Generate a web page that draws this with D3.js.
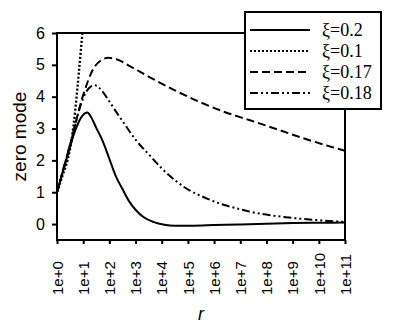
<html>
    <head>
        <title>zero mode</title>
        <style type="text/css">
            body{
                padding:0px;
                margin:0px;
                background:white;
            }
            svg{
                width:393px;
                height:334px;
                display:block;
            }
            .curve{
                fill:none;
                stroke:black;
                stroke-width:2px;
            }
            .axis path, .axis line{
                stroke:black;
                stroke-width:2px;
            }
            text{
                font-family:"Liberation Sans", Arial, sans-serif;
                fill:black;
            }
        </style>
        <script src="https://d3js.org/d3.v7.min.js"></script>
        <script type="text/javascript">
            // x values are log10(r)
            xi02Exp = [0, 0.35, 0.7, 0.95, 1.16, 1.3, 1.5, 1.75, 2.0, 2.25, 2.5, 2.75, 3.0, 3.3, 3.7, 4.1, 4.5, 5.2, 6, 7, 8, 9, 10, 11];
            xi02Val = [1, 2.0, 2.95, 3.38, 3.5, 3.36, 3.02, 2.6, 2.05, 1.5, 1.1, 0.72, 0.45, 0.22, 0.06, -0.02, -0.05, -0.05, -0.03, -0.01, 0.01, 0.03, 0.04, 0.05];

            xi01Exp = [0, 0.2, 0.4, 0.55, 0.7, 0.85, 0.97, 1.1];
            xi01Val = [1, 1.5, 2.0, 2.6, 3.6, 4.9, 6, 7.2];

            xi017Exp = [0, 0.5, 1.0, 1.39, 1.7, 1.96, 2.3, 2.8, 3.55, 4.5, 5.46, 6.4, 7.37, 8.5, 9.5, 10.3, 11];
            xi017Val = [1, 2.5, 4.05, 4.88, 5.15, 5.22, 5.17, 4.95, 4.61, 4.2, 3.83, 3.52, 3.26, 2.95, 2.67, 2.47, 2.3];

            xi018Exp = [0, 0.5, 1.0, 1.2, 1.45, 1.7, 2.0, 2.28, 2.53, 3.0, 3.55, 4.0, 4.5, 5.08, 5.46, 6.2, 6.98, 7.37, 8.3, 9.27, 10.2, 11];
            xi018Val = [1, 2.5, 3.95, 4.25, 4.36, 4.2, 3.85, 3.5, 3.2, 2.65, 2.15, 1.75, 1.38, 1.05, 0.9, 0.65, 0.47, 0.39, 0.26, 0.17, 0.11, 0.07];

            legendLabels = ["\u03be=0.2", "\u03be=0.1", "\u03be=0.17", "\u03be=0.18"];
            xTickExp = [0,1,2,3,4,5,6,7,8,9,10,11];
            yTicks = [0,1,2,3,4,5,6];

            window.onload = function()
            {
                var left=57, right=345, top=33, bottom=240;
                var sans="'Liberation Sans', Arial, sans-serif";
                var svg=d3.select("body").append("svg");

                var x=d3.scaleLog().domain([1,1e11]).range([left,right]);
                var y=d3.scaleLinear().domain([-0.5,6]).range([bottom,top]);

                var series=[
                    {exp:xi02Exp, val:xi02Val, dash:null},
                    {exp:xi01Exp, val:xi01Val, dash:"2,2"},
                    {exp:xi017Exp, val:xi017Val, dash:"8,4"},
                    {exp:xi018Exp, val:xi018Val, dash:"8,3,2,3,2,3"}
                ];

                svg.append("clipPath").attr("id","plotclip").append("rect")
                    .attr("x",left).attr("y",top).attr("width",right-left).attr("height",bottom-top);

                var line=d3.line()
                    .x(function(d){ return x(Math.pow(10,d[0])); })
                    .y(function(d){ return y(d[1]); })
                    .curve(d3.curveMonotoneX);

                svg.append("g").attr("clip-path","url(#plotclip)")
                    .selectAll("path").data(series).enter().append("path")
                    .attr("class","curve")
                    .attr("d",function(s){ return line(s.exp.map(function(e,i){ return [e,s.val[i]]; })); })
                    .style("stroke-dasharray",function(s){ return s.dash; })
                    .style("stroke-width",function(s){ return s.dash=="2,2" ? "2.4px" : "2px"; });

                // frame
                svg.append("rect").attr("x",left).attr("y",top).attr("width",right-left).attr("height",bottom-top)
                    .style("fill","none").style("stroke","black").style("stroke-width","2px");

                // y axis
                var yAxis=svg.append("g").attr("class","axis").attr("transform","translate("+left+",0)")
                    .call(d3.axisLeft(y).tickValues(yTicks).tickSize(5).tickPadding(7).tickFormat(d3.format("d")));
                yAxis.select(".domain").remove();
                yAxis.selectAll("text").style("font-size","16px").style("font-family",sans);

                // x axis
                var xAxis=svg.append("g").attr("class","axis").attr("transform","translate(0,"+bottom+")")
                    .call(d3.axisBottom(x).tickValues(xTickExp.map(function(e){ return Math.pow(10,e); }))
                        .tickSize(4).tickFormat(function(d){ return "1e+"+Math.round(Math.log10(d)); }));
                xAxis.select(".domain").remove();
                xAxis.selectAll("text")
                    .style("font-size","15px").style("font-family",sans)
                    .attr("text-anchor","start")
                    .attr("transform","translate(0,55) rotate(-90)")
                    .attr("x",0).attr("y",0).attr("dy","0.35em");

                // axis titles
                svg.append("text").text("zero mode")
                    .attr("transform","translate(26,"+((top+bottom)/2)+") rotate(-90)")
                    .attr("text-anchor","middle")
                    .style("font-family",sans).style("font-size","19px");
                svg.append("text").text("r")
                    .attr("x",(left+right)/2).attr("y",320)
                    .attr("text-anchor","middle")
                    .style("font-family",sans).style("font-size","18px").style("font-style","italic");

                // legend
                var lg=svg.append("g");
                lg.append("rect").attr("x",245).attr("y",12).attr("width",136).attr("height",97)
                    .style("fill","white").style("stroke","black").style("stroke-width","2px");
                var rows=lg.selectAll("g.row").data(series).enter().append("g")
                    .attr("transform",function(d,i){ return "translate(0,"+(30+i*21)+")"; });
                rows.append("line").attr("x1",250).attr("x2",310).attr("y1",0).attr("y2",0)
                    .attr("class","curve").style("stroke-dasharray",function(s){ return s.dash; });
                rows.append("text").text(function(d,i){ return legendLabels[i]; })
                    .attr("x",322).attr("dy","0.35em")
                    .style("font-family","'Liberation Serif', 'Times New Roman', serif").style("font-size","18px");
            }
        </script>
    </head>
    <body>
    </body>
</html>
